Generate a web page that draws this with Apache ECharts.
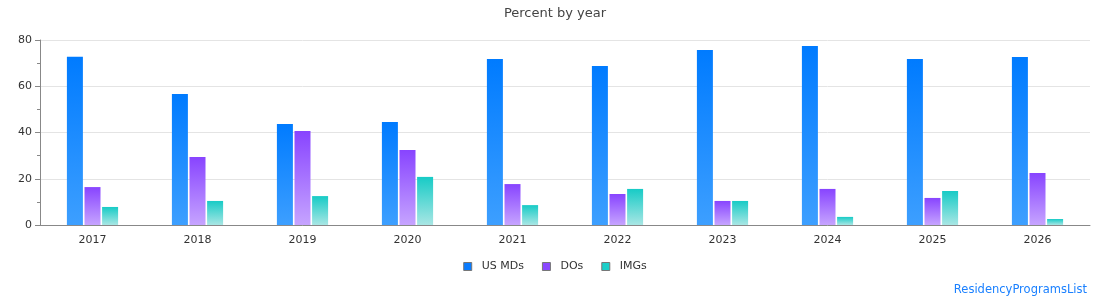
<!DOCTYPE html>
<html>
<head>
<meta charset="utf-8">
<script src="https://cdn.jsdelivr.net/npm/echarts@6/dist/echarts.min.js"></script>
<style>
  html, body { margin: 0; padding: 0; background: #fff; }
  #chart { width: 1110px; height: 300px; }
</style>
</head>
<body>
<div id="chart"></div>
<script>
const years = ["2017", "2018", "2019", "2020", "2021", "2022", "2023", "2024", "2025", "2026"];
const usMDs = [72.8, 56.6, 43.7, 44.5, 71.8, 68.8, 75.7, 77.4, 71.8, 72.6];
const dOs = [16.4, 29.4, 40.6, 32.4, 17.7, 13.4, 10.4, 15.6, 11.7, 22.5];
const imgs = [7.8, 10.4, 12.5, 20.8, 8.6, 15.6, 10.4, 3.5, 14.7, 2.6];

const font = "DejaVu Sans";

function grad(top, bottom) {
  return new echarts.graphic.LinearGradient(0, 0, 0, 1, [
    { offset: 0, color: top },
    { offset: 1, color: bottom },
  ]);
}

function barSeries(name, data, top, bottom) {
  return {
    name: name,
    type: "bar",
    data: data,
    barWidth: 16,
    barGap: "10%",
    itemStyle: { color: grad(top, bottom) },
  };
}

function legendItem(name, color) {
  return { name: name, itemStyle: { color: color, borderColor: "#777", borderWidth: 1 } };
}

const chart = echarts.init(document.getElementById("chart"));
chart.setOption({
  animation: false,
  textStyle: { fontFamily: font },
  title: {
    text: "Percent by year",
    left: "center",
    top: 2,
    textStyle: { fontFamily: font, fontSize: 13, fontWeight: "normal", color: "#444" },
  },
  graphic: [
    {
      type: "text",
      right: 23,
      bottom: 4,
      style: { text: "ResidencyProgramsList", fill: "#1a80ff", font: "11.5px DejaVu Sans" },
    },
  ],
  legend: {
    bottom: 23,
    left: "center",
    itemWidth: 8,
    itemHeight: 8,
    itemGap: 18,
    icon: "rect",
    textStyle: { fontFamily: font, fontSize: 11, color: "#333", padding: [0, 0, 0, 5] },
    data: [
      legendItem("US MDs", "#0a7cff"),
      legendItem("DOs", "#8a48ff"),
      legendItem("IMGs", "#1ccfc9"),
    ],
  },
  grid: { left: 40, right: 20, top: 40, bottom: 75 },
  xAxis: {
    type: "category",
    data: years,
    axisLine: { lineStyle: { color: "#888" } },
    axisTick: { show: false },
    axisLabel: { color: "#333", fontSize: 11, fontFamily: font, margin: 10 },
  },
  yAxis: {
    type: "value",
    min: 0,
    max: 80,
    interval: 20,
    axisLine: { show: true, lineStyle: { color: "#888" } },
    axisTick: { show: true, length: 5, lineStyle: { color: "#888" } },
    minorTick: { show: true, splitNumber: 2, length: 3, lineStyle: { color: "#888" } },
    splitLine: { lineStyle: { color: "#e4e4e4" } },
    axisLabel: { color: "#333", fontSize: 11, fontFamily: font, margin: 8 },
  },
  series: [
    barSeries("US MDs", usMDs, "#007bff", "#3d9fff"),
    barSeries("DOs", dOs, "#8844ff", "#c6a4ff"),
    barSeries("IMGs", imgs, "#17cbc6", "#a8e6e4"),
  ],
});
</script>
</body>
</html>
